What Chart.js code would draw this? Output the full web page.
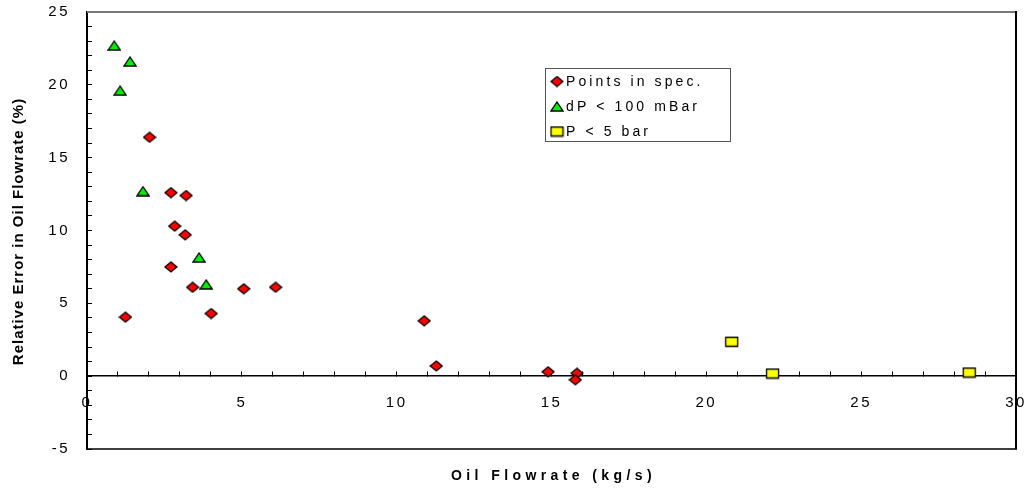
<!DOCTYPE html>
<html>
<head>
<meta charset="utf-8">
<script src="https://cdn.jsdelivr.net/npm/chart.js@4"></script>
<style>
  html, body { margin: 0; padding: 0; background: #ffffff; }
  canvas { display: block; }
</style>
</head>
<body>
<canvas id="chart" width="1028" height="490"></canvas>
<script>
// Oil flowrate (kg/s) vs relative error (%)
const inSpecX = [2.02, 2.71, 3.20, 2.83, 3.17, 2.71, 3.41, 5.06, 6.09, 1.24, 4.01, 10.89, 11.28, 14.89, 15.82, 15.77];
const inSpecY = [16.4, 12.6, 12.4, 10.3, 9.7, 7.5, 6.1, 6.0, 6.1, 4.05, 4.3, 3.8, 0.7, 0.3, 0.2, -0.25];
const lowDpX = [0.88, 1.39, 1.07, 1.81, 3.62, 3.85];
const lowDpY = [22.7, 21.6, 19.6, 12.7, 8.15, 6.3];
const lowPX = [20.82, 22.14, 28.49];
const lowPY = [2.36, 0.18, 0.25];

const seriesNames = ['Points in spec.', 'dP < 100 mBar', 'P < 5 bar'];
const xTitle = 'Oil Flowrate (kg/s)';
const yTitle = 'Relative Error in Oil Flowrate (%)';
const xRange = [0, 30];
const yRange = [-5, 25];
const majorStep = 5;

const FONT = '"Liberation Sans", Arial, sans-serif';

// marker sprites (slightly wide, as in the original workbook style)
function sprite(w, h, fill, shape) {
  const c = document.createElement('canvas');
  c.width = w + 2; c.height = h + 2;
  const g = c.getContext('2d');
  g.translate(1, 1);
  g.beginPath();
  if (shape === 'diamond') {
    g.moveTo(w / 2, 0); g.lineTo(w, h / 2); g.lineTo(w / 2, h); g.lineTo(0, h / 2); g.closePath();
  } else if (shape === 'triangle') {
    g.moveTo(w / 2, 0); g.lineTo(w, h); g.lineTo(0, h); g.closePath();
  } else {
    g.rect(0.5, 0.5, w - 1, h - 1);
  }
  g.fillStyle = fill; g.fill();
  g.lineWidth = 1.3; g.strokeStyle = '#000000'; g.stroke();
  return c;
}
const markers = [
  sprite(12, 10, '#ff0000', 'diamond'),
  sprite(12, 9, '#00ee00', 'triangle'),
  sprite(13, 10, '#ffff00', 'square')
];

function pts(xs, ys) { return xs.map((x, i) => ({x: x, y: ys[i]})); }

const frameAndText = {
  id: 'frameAndText',
  beforeDraw(chart) {
    chart.ctx.letterSpacing = '2.5px';
  },
  beforeDatasetsDraw(chart) {
    const {ctx, chartArea: a} = chart;
    ctx.save();
    ctx.lineWidth = 2;
    ctx.strokeStyle = '#777777';
    ctx.beginPath(); ctx.moveTo(a.left, a.top); ctx.lineTo(a.right, a.top); ctx.stroke();
    ctx.strokeStyle = '#000000';
    ctx.beginPath(); ctx.moveTo(a.right, a.top - 1); ctx.lineTo(a.right, a.bottom); ctx.stroke();
    ctx.lineWidth = 1.5;
    ctx.beginPath(); ctx.moveTo(a.left, a.bottom); ctx.lineTo(a.right + 1, a.bottom); ctx.stroke();
    ctx.restore();
  },
  afterDraw(chart) {
    const {ctx, chartArea: a} = chart;
    ctx.save();
    ctx.fillStyle = '#000000';
    ctx.textBaseline = 'middle';
    ctx.textAlign = 'center';
    // axis titles
    ctx.font = 'bold 14px ' + FONT;
    ctx.letterSpacing = '4.4px';
    ctx.fillText(xTitle, (a.left + a.right) / 2 + 2, 476);
    ctx.font = 'bold 15px ' + FONT;
    ctx.letterSpacing = '1px';
    ctx.save();
    ctx.translate(19, (a.top + a.bottom) / 2 + 1);
    ctx.rotate(-Math.PI / 2);
    ctx.fillText(yTitle, 0, 0);
    ctx.restore();
    // legend
    const lx = 545.5, ly = 68.5, lw = 185, lh = 73;
    ctx.fillStyle = '#ffffff';
    ctx.fillRect(lx, ly, lw, lh);
    ctx.lineWidth = 1;
    ctx.strokeStyle = '#555555';
    ctx.strokeRect(lx, ly, lw, lh);
    ctx.font = '14px ' + FONT;
    ctx.letterSpacing = '3.1px';
    ctx.textAlign = 'left';
    ctx.fillStyle = '#000000';
    seriesNames.forEach((name, i) => {
      const cy = ly + 13 + i * 25;
      const m = markers[i];
      ctx.drawImage(m, 557 - m.width / 2, cy - m.height / 2);
      ctx.fillText(name, 566, cy + 1);
    });
    ctx.restore();
    ctx.letterSpacing = '0px';
  }
};

const tickLabel = (v) => (v % majorStep === 0 ? String(v) : '');

new Chart(document.getElementById('chart'), {
  type: 'scatter',
  data: {
    datasets: [
      {label: seriesNames[0], data: pts(inSpecX, inSpecY), pointStyle: markers[0]},
      {label: seriesNames[1], data: pts(lowDpX, lowDpY), pointStyle: markers[1]},
      {label: seriesNames[2], data: pts(lowPX, lowPY), pointStyle: markers[2]}
    ]
  },
  options: {
    responsive: false,
    animation: false,
    devicePixelRatio: 1,
    layout: {padding: {top: 12, right: 12, bottom: 41, left: 0}},
    plugins: {legend: {display: false}, tooltip: {enabled: false}},
    scales: {
      x: {
        type: 'linear',
        position: {y: 0},
        min: xRange[0], max: xRange[1],
        ticks: {
          stepSize: 1, autoSkip: false, maxRotation: 0, padding: 23,
          color: '#000000', font: {family: FONT, size: 15},
          callback: tickLabel
        },
        grid: {display: true, drawOnChartArea: false, drawTicks: true, tickLength: -5, tickColor: '#000000', tickWidth: 1},
        border: {display: true, color: '#000000', width: 1.5},
        afterFit(s) { s.paddingLeft = 0; s.paddingRight = 0; }
      },
      y: {
        type: 'linear',
        position: 'left',
        min: yRange[0], max: yRange[1],
        ticks: {
          stepSize: 1, autoSkip: false, padding: 22,
          color: '#000000', font: {family: FONT, size: 15},
          callback: tickLabel
        },
        grid: {display: true, drawOnChartArea: false, drawTicks: true, tickLength: -5, tickColor: '#000000', tickWidth: 1},
        border: {display: true, color: '#000000', width: 2},
        afterFit(s) { s.width = 87; s.paddingTop = 0; s.paddingBottom = 0; }
      }
    }
  },
  plugins: [frameAndText]
});
</script>
</body>
</html>
